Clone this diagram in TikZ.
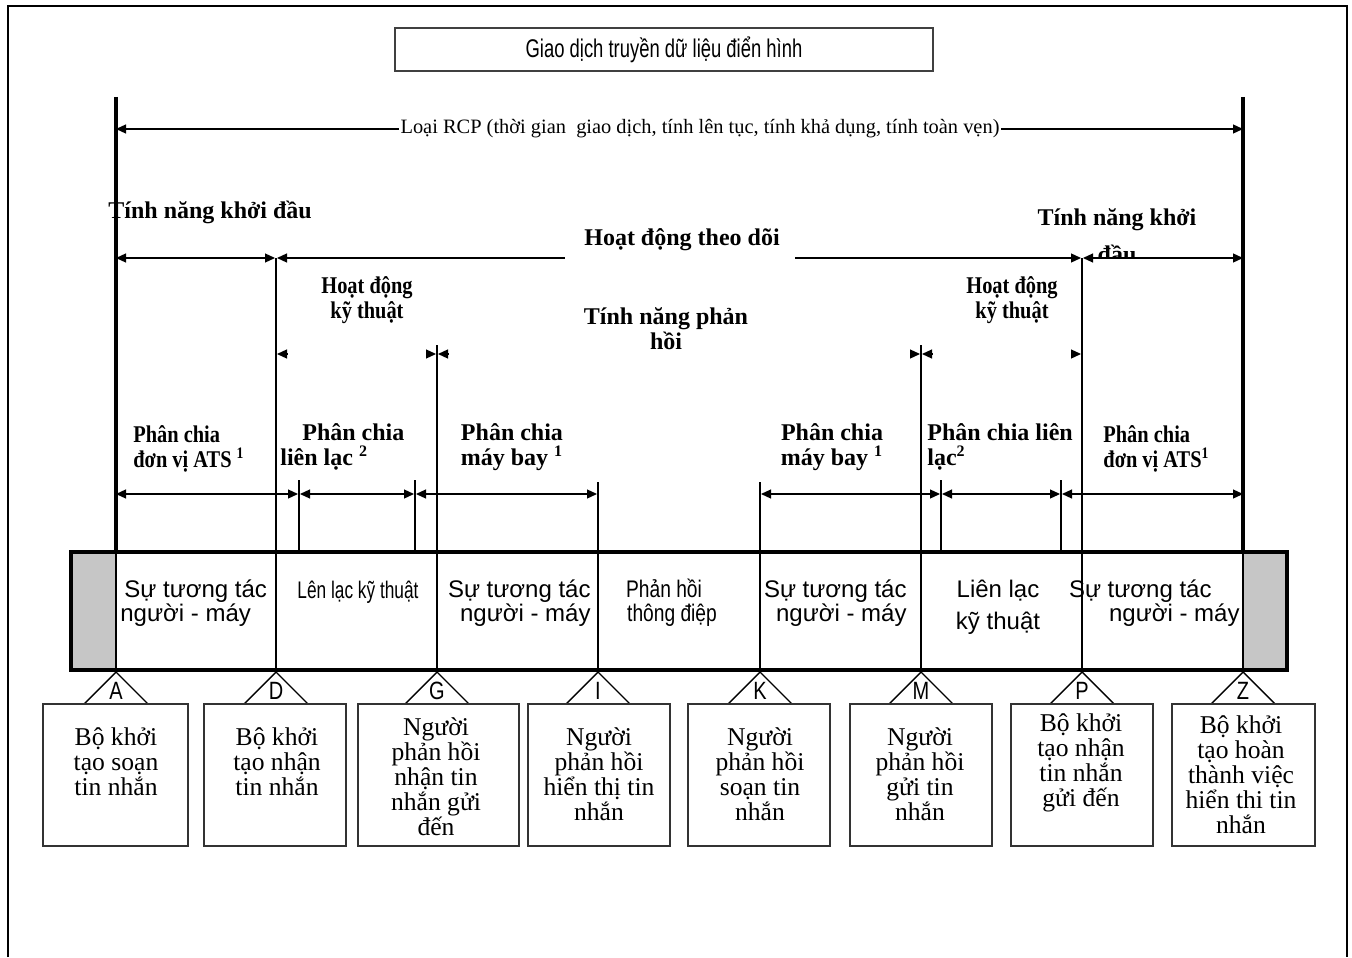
\documentclass[tikz,border=0pt]{standalone}
\usepackage{fontspec}
\setmainfont{Liberation Serif}
\setsansfont{Liberation Sans}
\newfontfamily\narrowsans[FakeStretch=0.8]{Liberation Sans}
\newfontfamily\titlesans[FakeStretch=0.72]{Liberation Sans}
\newfontfamily\narrowserif[FakeStretch=0.85]{Liberation Serif}
\usetikzlibrary{arrows.meta}
\begin{document}
\begin{tikzpicture}[x=0.5pt,y=-0.5pt,
  frame/.style={line width=1pt},
  mainv/.style={line width=1.6pt},
  thinv/.style={line width=0.7pt},
  dim/.style={line width=0.6pt,{Triangle[length=5pt,width=4.5pt]}-{Triangle[length=5pt,width=4.5pt]}},
  ldim/.style={line width=0.6pt,{Triangle[length=5pt,width=4.5pt]}-},
  rdim/.style={line width=0.6pt,-{Triangle[length=5pt,width=4.5pt]}},
  bl/.style={font=\fontsize{12}{12.5}\selectfont\bfseries, inner sep=0pt},
  nbl/.style={font=\narrowserif\fontsize{12}{12.5}\selectfont\bfseries, inner sep=0pt},
  cell/.style={font=\sffamily\fontsize{12}{12}\selectfont, inner sep=0pt},
  box/.style={draw=black!80, line width=1.2pt, minimum width=71pt, minimum height=71pt, inner sep=0pt},
  boxtext/.style={font=\fontsize{12.8}{12.5}\selectfont, align=center, inner sep=0pt},
  letter/.style={font=\narrowsans\fontsize{12.5}{12.5}\selectfont, inner sep=0pt},
]
\useasboundingbox (0,0) rectangle (1352,957);
% outer frame
\draw[frame] (8,957) -- (8,6) -- (1347,6) -- (1347,957);
% title
\node[draw=black!75, line width=1pt, minimum width=269pt, minimum height=21.5pt, inner sep=0pt,
      font=\titlesans\fontsize{12.8}{12.8}\selectfont] (title) at (664,49.5) {Giao dịch truyền dữ liệu điển hình};

% main verticals
\coordinate (A0) at (116,97);  \coordinate (A1) at (116,552);
\coordinate (Z0) at (1243,97); \coordinate (Z1) at (1243,552);
\draw[mainv] (A0) -- (A1);
\draw[mainv] (Z0) -- (Z1);

% RCP arrow
\coordinate (rcpL) at (116,129); \coordinate (rcpR) at (1243,129);
\draw[dim] (rcpL) -- (rcpR);
\node[fill=white, inner sep=1pt, font=\fontsize{10.2}{10}\selectfont] (rcp) at (700,129)
  {Loại RCP (thời gian\ \ giao dịch, tính lên tục, tính khả dụng, tính toàn vẹn)};

% thin verticals
\coordinate (D0) at (276,258); \coordinate (D1) at (276,552);
\coordinate (G0) at (437,345); \coordinate (G1) at (437,552);
\coordinate (M0) at (921,345); \coordinate (M1) at (921,552);
\coordinate (P0) at (1082,258); \coordinate (P1) at (1082,552);
\coordinate (I0) at (598,482); \coordinate (I1) at (598,552);
\coordinate (K0) at (760,482); \coordinate (K1) at (760,552);
\foreach \a in {D,G,M,P,I,K} {\draw[thinv] (\a0) -- (\a1);}
\foreach \x in {299,415,941,1061} {\draw[thinv] (\x,480) -- (\x,551);}

% row y=258
\coordinate (r1a) at (116,258); \coordinate (r1b) at (275,258);
\coordinate (r1c) at (277,258); \coordinate (r1d) at (565,258);
\coordinate (r1e) at (795,258); \coordinate (r1f) at (1081,258);
\coordinate (r1g) at (1083,258); \coordinate (r1h) at (1243,258);
\draw[dim] (r1a) -- (r1b);
\draw[ldim] (r1c) -- (r1d);
\draw[rdim] (r1e) -- (r1f);
\draw[dim] (r1g) -- (r1h);

\node[bl, anchor=base west] (tkd) at (108,219) {Tính năng khởi đầu};
\node[bl, anchor=base] (tkk) at (1117,226) {Tính năng khởi};
\begin{scope}
\clip (1000,236) rectangle (1240,257);
\node[bl, anchor=base] (tkk2) at (1117,262) {đầu};
\end{scope}
\node[bl, anchor=base] (hdtd) at (682,245) {Hoạt động theo dõi};

% row y=354 (arrowheads only)
\draw[rdim] (287,354) -- (277,354);
\draw[rdim] (426,354) -- (436,354);
\draw[rdim] (448,354) -- (438,354);
\draw[rdim] (910,354) -- (920,354);
\draw[rdim] (932,354) -- (922,354);
\draw[rdim] (1071,354) -- (1081,354);

\node[nbl, align=center] (hdkt1) at (367,300) {Hoạt động\\kỹ thuật};
\node[bl, align=center] (tnph) at (666,329) {Tính năng phản\\hồi};
\node[nbl, align=center] (hdkt2) at (1012,300) {Hoạt động\\kỹ thuật};

% row y=494
\coordinate (s1) at (116,494); \coordinate (s2) at (298,494);
\coordinate (s3) at (300,494); \coordinate (s4) at (414,494);
\coordinate (s5) at (416,494); \coordinate (s6) at (597,494);
\coordinate (t1) at (761,494); \coordinate (t2) at (940,494);
\coordinate (t3) at (942,494); \coordinate (t4) at (1060,494);
\coordinate (t5) at (1062,494); \coordinate (t6) at (1243,494);
\draw[dim] (s1) -- (s2); \draw[dim] (s3) -- (s4); \draw[dim] (s5) -- (s6);
\draw[dim] (t1) -- (t2); \draw[dim] (t3) -- (t4); \draw[dim] (t5) -- (t6);

\node[nbl, align=left, anchor=west] (pc1) at (133,449) {Phân chia\\đơn vị ATS \textsuperscript{1}};
\node[bl, align=left, anchor=west] (pc2) at (280,447) {\hspace*{11pt}Phân chia\\liên lạc \textsuperscript{2}};
\node[bl, align=center] (pc3) at (512,447) {Phân chia\\máy bay \textsuperscript{1}};
\node[bl, align=center] (pc4) at (832,447) {Phân chia\\máy bay \textsuperscript{1}};
\node[bl, align=left, anchor=west] (pc5) at (927,447) {Phân chia liên\\lạc\textsuperscript{2}};
\node[nbl, align=left, anchor=west] (pc6) at (1103,449) {Phân chia\\đơn vị ATS\textsuperscript{1}};

% bar
\fill[gray!45] (71,552) rectangle (116,670);
\fill[gray!45] (1243,552) rectangle (1287,670);
\foreach \x in {116,276,437,598,760,921,1082,1243} {\draw[thinv] (\x,552) -- (\x,670);}
\draw[line width=2.2pt] (71,552) rectangle (1287,670);

\node[cell, align=left, anchor=west] (c1) at (120,603) {\hspace*{2pt}Sự tương tác\\người - máy};
\node[cell, font=\titlesans\fontsize{12}{12}\selectfont] (c2) at (358,592) {Lên lạc kỹ thuật};
\node[cell, align=right, anchor=east] (c3) at (591,603) {Sự tương tác\\người - máy};
\node[cell, align=center, font=\narrowsans\fontsize{12}{12}\selectfont] (c4) at (664,603) {Phản hồi\\\hspace*{8pt}thông điệp};
\node[cell, align=right, anchor=east] (c5) at (907,603) {Sự tương tác\\người - máy};
\node[cell, align=center, font=\sffamily\fontsize{12}{16}\selectfont] (c6) at (998,607) {Liên lạc\\kỹ thuật};
\node[cell, align=right, anchor=east] (c7) at (1240,603) {Sự tương tác\hspace*{14pt}\\người - máy};

% triangles with letters
\foreach \x/\l in {116/A,276/D,437/G,598/I,760/K,921/M,1082/P,1243/Z} {
  \draw[thinv] (\x-32,704) -- (\x,672) -- (\x+32,704);
  \node[letter] (L\l) at (\x,691) {\l};
}

% boxes
\node[box, minimum width=72.5pt] (bA) at (115.5,775) {};
\node[box] (bD) at (275,775) {};
\node[box, minimum width=80.5pt] (bG) at (438.5,775) {};
\node[box] (bI) at (599,775) {};
\node[box] (bK) at (759,775) {};
\node[box] (bM) at (921,775) {};
\node[box] (bP) at (1082,775) {};
\node[box, minimum width=71.5pt] (bZ) at (1243.5,775) {};

\node[boxtext] (tA) at (116,762) {Bộ khởi\\tạo soạn\\tin nhắn};
\node[boxtext] (tD) at (277,762) {Bộ khởi\\tạo nhận\\tin nhắn};
\node[boxtext] (tG) at (436,777) {Người\\phản hồi\\nhận tin\\nhắn gửi\\đến};
\node[boxtext] (tI) at (599,774) {Người\\phản hồi\\hiển thị tin\\nhắn};
\node[boxtext] (tK) at (760,774) {Người\\phản hồi\\soạn tin\\nhắn};
\node[boxtext] (tM) at (920,774) {Người\\phản hồi\\gửi tin\\nhắn};
\node[boxtext] (tP) at (1081,763) {Bộ khởi\\tạo nhận\\tin nhắn\\gửi đến};
\node[boxtext] (tZ) at (1241,775) {Bộ khởi\\tạo hoàn\\thành việc\\hiển thi tin\\nhắn};
\end{tikzpicture}
\end{document}
